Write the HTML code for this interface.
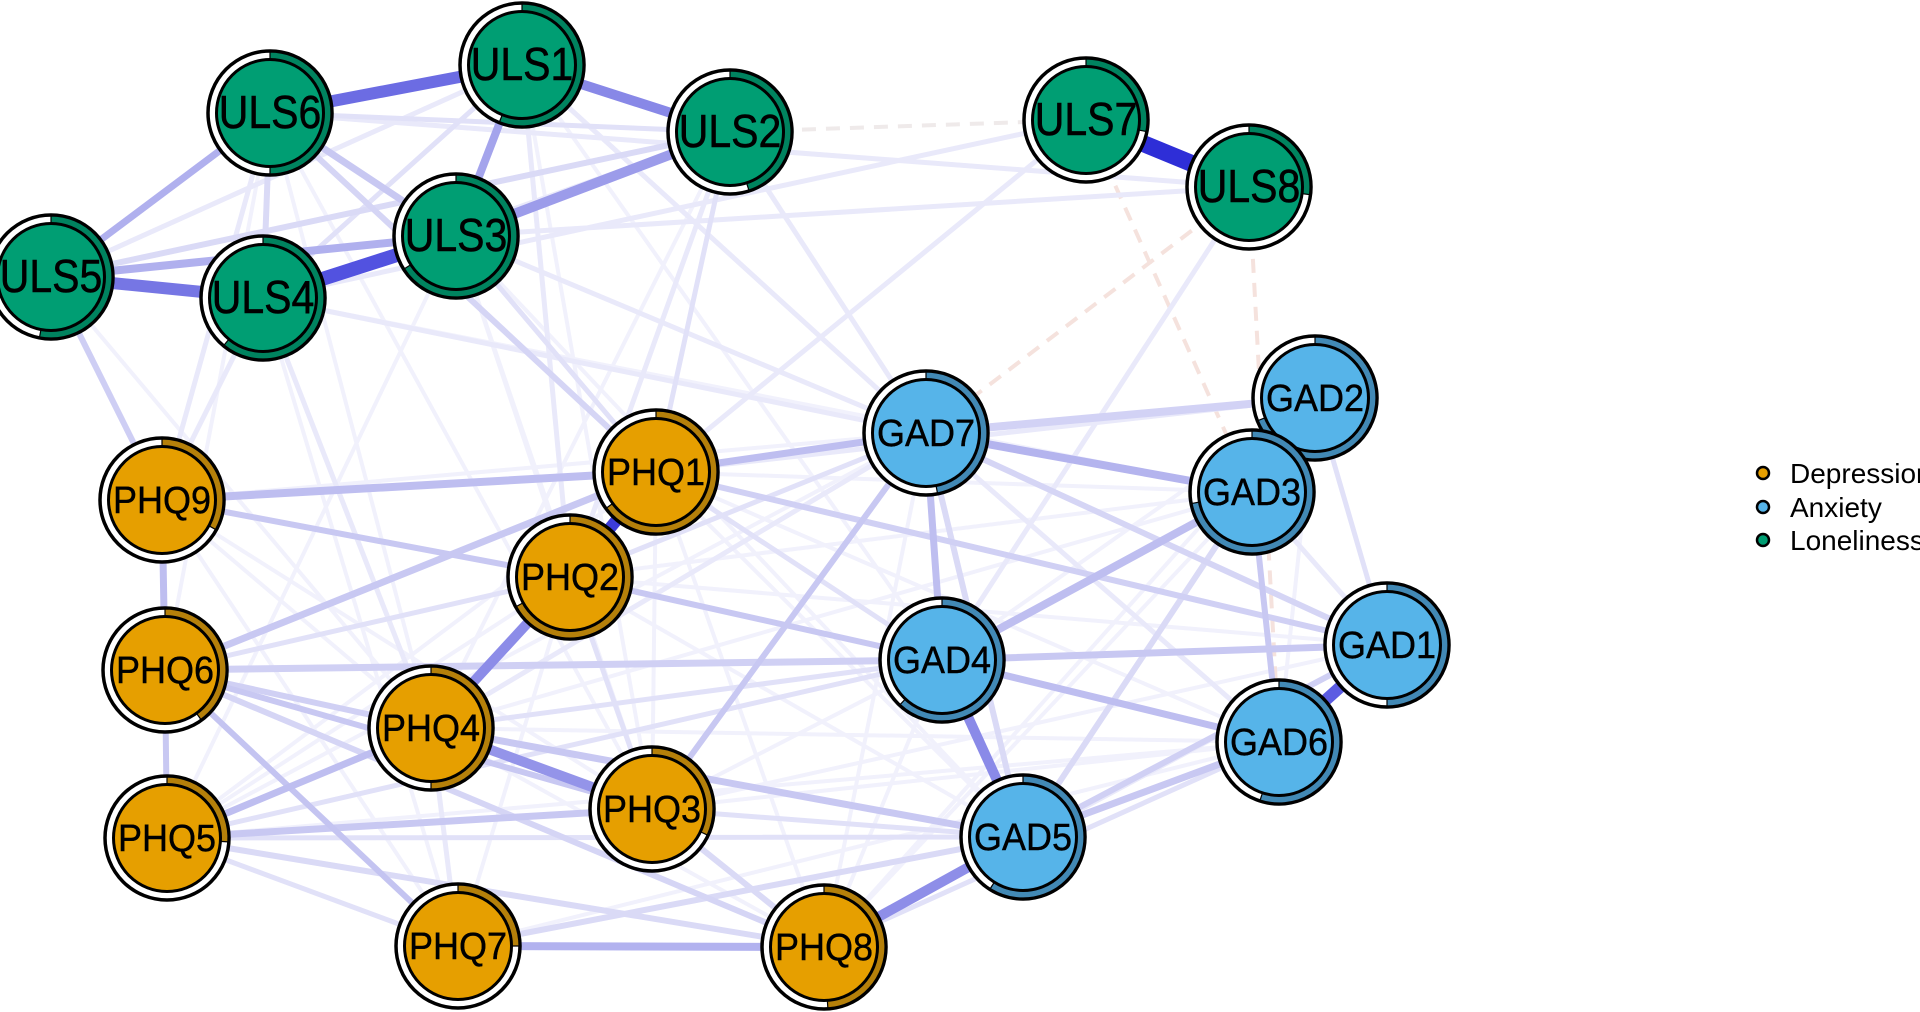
<!DOCTYPE html>
<html>
<head>
<meta charset="utf-8">
<style>
html,body{margin:0;padding:0;background:#fff;}
svg{display:block;}
.u{font-family:"Liberation Sans",Arial,sans-serif;font-size:41px;text-anchor:middle;fill:#000;stroke:#000;stroke-width:0.5;}
.p{font-family:"Liberation Sans",Arial,sans-serif;font-size:36px;text-anchor:middle;fill:#000;stroke:#000;stroke-width:0.4;}
.lg{font-family:"Liberation Sans",Arial,sans-serif;font-size:28px;fill:#000;}
.ring{fill:#fff;stroke:#000;stroke-width:3.5;}
.in{stroke:#000;stroke-width:3;}
.arc{stroke:#000;stroke-width:1.2;}
.g .in{fill:#009E73;} .g .arc{fill:#00835F;}
.b .in{fill:#56B4E9;} .b .arc{fill:#4289B5;}
.o .in{fill:#E69F00;} .o .arc{fill:#B5800A;}
</style>
</head>
<body>
<svg width="1920" height="1012" viewBox="0 0 1920 1012" xmlns="http://www.w3.org/2000/svg">
<rect width="1920" height="1012" fill="#fff"/>
<g fill="none" stroke-linecap="butt">
<path stroke="#F1F1FC" stroke-width="4" d="M270 113L165 670M270 113L431 728M270 113L652 809M522 65L652 809M522 65L942 660M730 132L431 728M456 236L652 809M456 236L167 838M456 236L1023 837M263 298L458 946M263 298L1252 492M51 277L431 728M162 500L431 728M162 500L652 809M162 500L458 946M656 472L824 947M570 577L458 946M656 472L167 838M570 577L1387 645M652 809L1387 645M824 947L1252 492M824 947L1315 398M458 946L1279 742M1315 398L1023 837M1315 398L1279 742M570 577L1023 837M162 500L926 433M656 472L1279 742M656 472L1023 837M652 809L942 660M431 728L1252 492M431 728L1279 742M167 838L1279 742M824 947L942 660M824 947L926 433M942 660L1315 398M656 472L652 809M656 472L431 728M570 577L167 838M167 838L926 433M456 236L570 577M431 728L824 947M570 577L1252 492M652 809L1279 742M656 472L1252 492"/>
<path stroke="#EFEAEA" stroke-width="4" stroke-dasharray="14 10" d="M730 132L1086 120"/>
<path stroke="#F5E2DD" stroke-width="4" stroke-dasharray="14 10" d="M1249 187L926 433M1086 120L1252 492M1249 187L1279 742"/>
<path stroke="#E9E9FA" stroke-width="5" d="M51 277L522 65M263 298L730 132M270 113L1249 187M456 236L1249 187M263 298L1086 120M522 65L570 577M263 298L162 500M270 113L162 500M263 298L431 728M730 132L570 577M730 132L926 433M456 236L926 433M263 298L926 433M522 65L926 433M1086 120L656 472M1249 187L942 660M431 728L926 433M1252 492L1387 645M926 433L1279 742M824 947L1387 645M458 946L431 728M656 472L1315 398"/>
<path stroke="#E1E1F8" stroke-width="5" d="M270 113L730 132M263 298L522 65M456 236L656 472M730 132L656 472M165 670L570 577M431 728L942 660M167 838L942 660M167 838L1023 837M167 838L458 946M652 809L1023 837M570 577L652 809M824 947L1279 742M1315 398L1387 645M656 472L942 660M570 577L926 433"/>
<path stroke="#DADAF6" stroke-width="6" d="M270 113L263 298M51 277L730 132M167 838L824 947M458 946L1023 837M652 809L824 947M926 433L1023 837M1252 492L1023 837"/>
<path stroke="#D5D5F5" stroke-width="6" d="M270 113L656 472M165 670L824 947M926 433L1387 645"/>
<path stroke="#D0D0F4" stroke-width="6" d="M165 670L431 728M656 472L1387 645M1023 837L1387 645"/>
<path stroke="#D0D0F4" stroke-width="7" d="M165 670L942 660"/>
<path stroke="#D2D2F5" stroke-width="8" d="M926 433L1315 398"/>
<path stroke="#CECEF4" stroke-width="6" d="M51 277L162 500"/>
<path stroke="#C8C8F2" stroke-width="6" d="M162 500L570 577M570 577L942 660M652 809L926 433M165 670L652 809M165 670L167 838M1252 492L1279 742"/>
<path stroke="#C8C8F2" stroke-width="7" d="M270 113L456 236M165 670L656 472M167 838L652 809M1023 837L1279 742M431 728L1023 837M942 660L1387 645"/>
<path stroke="#C4C4F1" stroke-width="6" d="M165 670L458 946"/>
<path stroke="#BEBEF0" stroke-width="7" d="M162 500L165 670M167 838L431 728M656 472L926 433M926 433L942 660M942 660L1279 742"/>
<path stroke="#BEBEF0" stroke-width="8" d="M162 500L656 472M942 660L1252 492"/>
<path stroke="#B4B4EE" stroke-width="8" d="M926 433L1252 492"/>
<path stroke="#B2B2EF" stroke-width="8" d="M458 946L824 947"/>
<path stroke="#B0B0EE" stroke-width="7" d="M51 277L270 113"/>
<path stroke="#B0B0EE" stroke-width="8" d="M51 277L456 236"/>
<path stroke="#A4A4EC" stroke-width="8" d="M522 65L456 236"/>
<path stroke="#9C9CEA" stroke-width="10" d="M456 236L730 132"/>
<path stroke="#8888E7" stroke-width="10" d="M522 65L730 132"/>
<path stroke="#7676E4" stroke-width="12" d="M51 277L263 298"/>
<path stroke="#6C6CE3" stroke-width="12" d="M270 113L522 65"/>
<path stroke="#5252E0" stroke-width="14" d="M263 298L456 236"/>
<path stroke="#2E2ED7" stroke-width="17" d="M1086 120L1249 187"/>
<path stroke="#9494E9" stroke-width="10" d="M431 728L652 809"/>
<path stroke="#8C8CE8" stroke-width="10" d="M570 577L431 728"/>
<path stroke="#8A8AE8" stroke-width="10" d="M942 660L1023 837"/>
<path stroke="#8E8EE8" stroke-width="10" d="M824 947L1023 837"/>
<path stroke="#5C5CE2" stroke-width="12" d="M1387 645L1279 742"/>
<path stroke="#3C3CDA" stroke-width="12" d="M656 472L570 577"/>
</g>

<g class="g" transform="translate(522,65)"><circle class="ring" r="62"/><path class="arc" d="M0,-61A61,61 0 1 1 -22.45,56.72L-19.88,50.21A54,54 0 1 0 0,-54Z"/><circle class="in" r="53.5"/><text class="u" transform="scale(1,1.12)" y="13.2">ULS1</text></g>
<g class="g" transform="translate(730,132)"><circle class="ring" r="62"/><path class="arc" d="M0,-61A61,61 0 0 1 18.85,58.02L16.69,51.36A54,54 0 0 0 0,-54Z"/><circle class="in" r="53.5"/><text class="u" transform="scale(1,1.12)" y="13.2">ULS2</text></g>
<g class="g" transform="translate(270,113)"><circle class="ring" r="62"/><path class="arc" d="M0,-61A61,61 0 0 1 0,61L0,54A54,54 0 0 0 0,-54Z"/><circle class="in" r="53.5"/><text class="u" transform="scale(1,1.12)" y="13.2">ULS6</text></g>
<g class="g" transform="translate(456,236)"><circle class="ring" r="62"/><path class="arc" d="M0,-61A61,61 0 1 1 -51.50,32.68L-45.59,28.93A54,54 0 1 0 0,-54Z"/><circle class="in" r="53.5"/><text class="u" transform="scale(1,1.12)" y="13.2">ULS3</text></g>
<g class="g" transform="translate(51,277)"><circle class="ring" r="62"/><path class="arc" d="M0,-61A61,61 0 1 1 -11.43,59.92L-10.12,53.04A54,54 0 1 0 0,-54Z"/><circle class="in" r="53.5"/><text class="u" transform="scale(1,1.12)" y="13.2">ULS5</text></g>
<g class="g" transform="translate(263,298)"><circle class="ring" r="62"/><path class="arc" d="M0,-61A61,61 0 1 1 -38.88,47.0L-34.42,41.61A54,54 0 1 0 0,-54Z"/><circle class="in" r="53.5"/><text class="u" transform="scale(1,1.12)" y="13.2">ULS4</text></g>
<g class="g" transform="translate(1086,120)"><circle class="ring" r="62"/><path class="arc" d="M0,-61A61,61 0 0 1 59.92,11.43L53.04,10.12A54,54 0 0 0 0,-54Z"/><circle class="in" r="53.5"/><text class="u" transform="scale(1,1.12)" y="13.2">ULS7</text></g>
<g class="g" transform="translate(1249,187)"><circle class="ring" r="62"/><path class="arc" d="M0,-61A61,61 0 0 1 60.52,7.64L53.57,6.77A54,54 0 0 0 0,-54Z"/><circle class="in" r="53.5"/><text class="u" transform="scale(1,1.12)" y="13.2">ULS8</text></g>

<g class="b" transform="translate(1315,398)"><circle class="ring" r="62"/><path class="arc" d="M0,-61A61,61 0 1 1 -56.72,22.45L-50.21,19.88A54,54 0 1 0 0,-54Z"/><circle class="in" r="53.5"/><text class="p" transform="scale(1,1.06)" y="12.2">GAD2</text></g>
<g class="b" transform="translate(1252,492)"><circle class="ring" r="62"/><path class="arc" d="M0,-61A61,61 0 1 1 -59.92,11.43L-53.04,10.12A54,54 0 1 0 0,-54Z"/><circle class="in" r="53.5"/><text class="p" transform="scale(1,1.06)" y="12.2">GAD3</text></g>
<g class="b" transform="translate(926,433)"><circle class="ring" r="62"/><path class="arc" d="M0,-61A61,61 0 0 1 11.43,59.92L10.12,53.04A54,54 0 0 0 0,-54Z"/><circle class="in" r="53.5"/><text class="p" transform="scale(1,1.06)" y="12.2">GAD7</text></g>
<g class="b" transform="translate(942,660)"><circle class="ring" r="62"/><path class="arc" d="M0,-61A61,61 0 1 1 -41.75,44.47L-36.96,39.37A54,54 0 1 0 0,-54Z"/><circle class="in" r="53.5"/><text class="p" transform="scale(1,1.06)" y="12.2">GAD4</text></g>
<g class="b" transform="translate(1387,645)"><circle class="ring" r="62"/><path class="arc" d="M0,-61A61,61 0 0 1 0,61L0,54A54,54 0 0 0 0,-54Z"/><circle class="in" r="53.5"/><text class="p" transform="scale(1,1.06)" y="12.2">GAD1</text></g>
<g class="b" transform="translate(1279,742)"><circle class="ring" r="62"/><path class="arc" d="M0,-61A61,61 0 1 1 -18.85,58.02L-16.69,51.36A54,54 0 1 0 0,-54Z"/><circle class="in" r="53.5"/><text class="p" transform="scale(1,1.06)" y="12.2">GAD6</text></g>
<g class="b" transform="translate(1023,837)"><circle class="ring" r="62"/><path class="arc" d="M0,-61A61,61 0 1 1 -32.68,51.50L-28.93,45.59A54,54 0 1 0 0,-54Z"/><circle class="in" r="53.5"/><text class="p" transform="scale(1,1.06)" y="12.2">GAD5</text></g>

<g class="o" transform="translate(656,472)"><circle class="ring" r="62"/><path class="arc" d="M0,-61A61,61 0 1 1 -49.35,35.86L-43.69,31.74A54,54 0 1 0 0,-54Z"/><circle class="in" r="53.5"/><text class="p" transform="scale(1,1.06)" y="12.2">PHQ1</text></g>
<g class="o" transform="translate(570,577)"><circle class="ring" r="62"/><path class="arc" d="M0,-61A61,61 0 1 1 -53.45,29.39L-47.32,26.02A54,54 0 1 0 0,-54Z"/><circle class="in" r="53.5"/><text class="p" transform="scale(1,1.06)" y="12.2">PHQ2</text></g>
<g class="o" transform="translate(162,500)"><circle class="ring" r="62"/><path class="arc" d="M0,-61A61,61 0 0 1 53.45,29.39L47.32,26.02A54,54 0 0 0 0,-54Z"/><circle class="in" r="53.5"/><text class="p" transform="scale(1,1.06)" y="12.2">PHQ9</text></g>
<g class="o" transform="translate(165,670)"><circle class="ring" r="62"/><path class="arc" d="M0,-61A61,61 0 0 1 35.86,49.35L31.74,43.69A54,54 0 0 0 0,-54Z"/><circle class="in" r="53.5"/><text class="p" transform="scale(1,1.06)" y="12.2">PHQ6</text></g>
<g class="o" transform="translate(431,728)"><circle class="ring" r="62"/><path class="arc" d="M0,-61A61,61 0 0 1 0,61L0,54A54,54 0 0 0 0,-54Z"/><circle class="in" r="53.5"/><text class="p" transform="scale(1,1.06)" y="12.2">PHQ4</text></g>
<g class="o" transform="translate(167,838)"><circle class="ring" r="62"/><path class="arc" d="M0,-61A61,61 0 0 1 60.88,3.83L53.89,3.39A54,54 0 0 0 0,-54Z"/><circle class="in" r="53.5"/><text class="p" transform="scale(1,1.06)" y="12.2">PHQ5</text></g>
<g class="o" transform="translate(652,809)"><circle class="ring" r="62"/><path class="arc" d="M0,-61A61,61 0 0 1 55.19,25.97L48.86,22.99A54,54 0 0 0 0,-54Z"/><circle class="in" r="53.5"/><text class="p" transform="scale(1,1.06)" y="12.2">PHQ3</text></g>
<g class="o" transform="translate(458,946)"><circle class="ring" r="62"/><path class="arc" d="M0,-61A61,61 0 0 1 61,0L54,0A54,54 0 0 0 0,-54Z"/><circle class="in" r="53.5"/><text class="p" transform="scale(1,1.06)" y="12.2">PHQ7</text></g>
<g class="o" transform="translate(824,947)"><circle class="ring" r="62"/><path class="arc" d="M0,-61A61,61 0 0 1 3.83,60.88L3.39,53.89A54,54 0 0 0 0,-54Z"/><circle class="in" r="53.5"/><text class="p" transform="scale(1,1.06)" y="12.2">PHQ8</text></g>

<circle cx="1763" cy="473" r="6" fill="#E69F00" stroke="#000" stroke-width="2.5"/>
<circle cx="1763" cy="507" r="6" fill="#56B4E9" stroke="#000" stroke-width="2.5"/>
<circle cx="1763" cy="540" r="6" fill="#009E73" stroke="#000" stroke-width="2.5"/>
<text class="lg" x="1790" y="483">Depression</text>
<text class="lg" x="1790" y="517">Anxiety</text>
<text class="lg" x="1790" y="550">Loneliness</text>
</svg>
</body>
</html>
